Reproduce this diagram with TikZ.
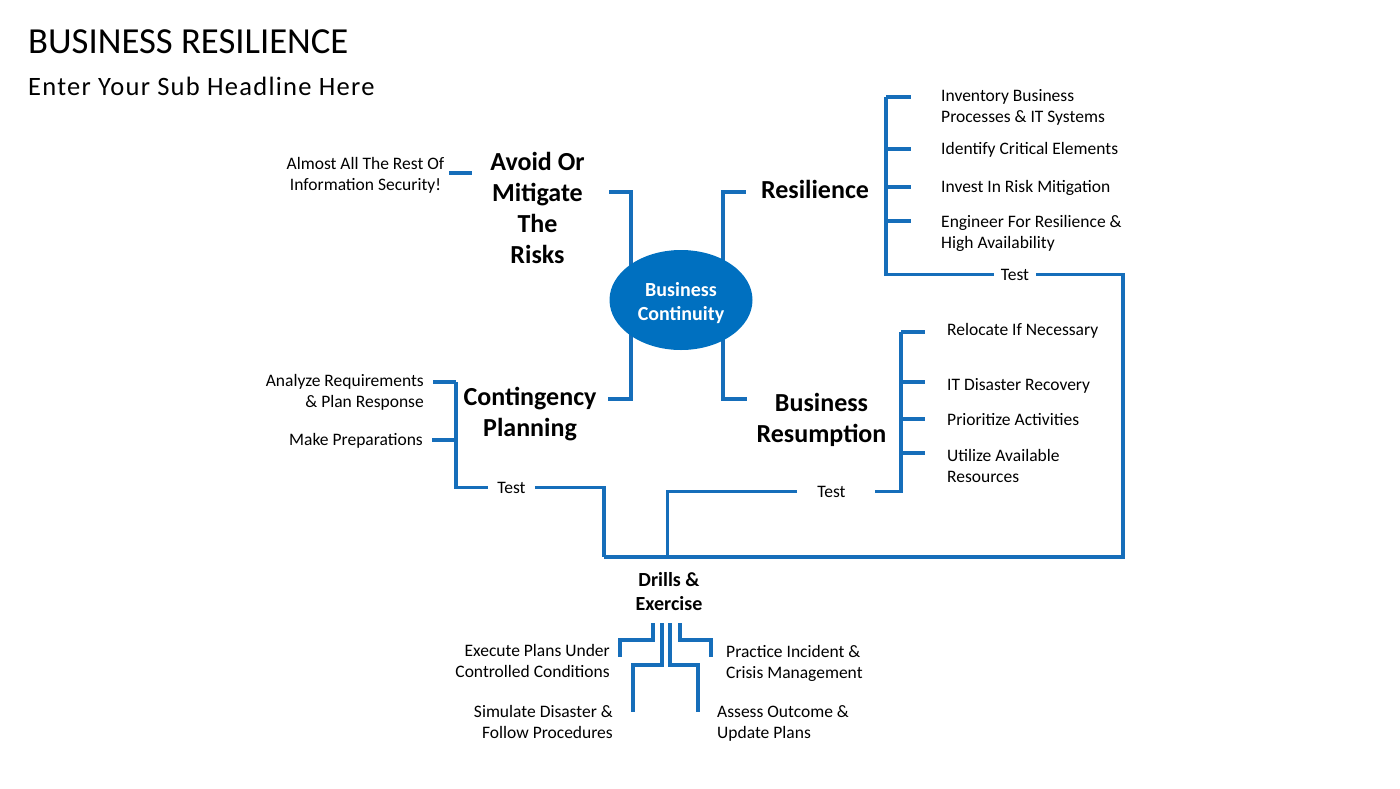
\documentclass[tikz,border=0pt]{standalone}
\usepackage{fontspec}
\setmainfont{Carlito}
\usepackage{tikz}
\usetikzlibrary{shapes,backgrounds}
\definecolor{bcblue}{RGB}{0,112,192}
\definecolor{bclink}{RGB}{22,110,186}
\newcommand{\leaffont}{\fontsize{17.5}{21}\selectfont}
\newcommand{\headfont}{\fontsize{26}{31}\selectfont\bfseries}
\newcommand{\hubfont}{\fontsize{20}{24}\selectfont\bfseries}
\tikzstyle{hub} = [ellipse, fill=bcblue, text=white, font=\hubfont, align=center, minimum width=143pt, minimum height=100pt, inner sep=0pt]
\tikzstyle{head} = [font=\headfont, align=center, inner sep=0pt, anchor=base]
\tikzstyle{leafL} = [font=\leaffont, align=left, inner sep=0pt, anchor=base west]
\tikzstyle{leafR} = [font=\leaffont, align=right, inner sep=0pt, anchor=base east]
\tikzstyle{testlbl} = [font=\leaffont, inner ysep=0pt, inner xsep=7pt, anchor=base]
\tikzstyle{link} = [draw=bclink, line width=3.8pt]

\begin{document}
\begin{tikzpicture}[x=1pt, y=-1pt, font=\leaffont]
  \useasboundingbox (0,0) rectangle (1400,788);

  % titles
  \node [anchor=base west, inner sep=0pt, font=\fontsize{36.7}{44}\selectfont] (title) at (28,53) {BUSINESS RESILIENCE};
  \node [anchor=base west, inner sep=0pt, font=\fontsize{26.5}{31}\selectfont\addfontfeature{LetterSpace=4.8}] (subtitle) at (28,95) {Enter Your Sub Headline Here};

  % nodes (base = last line)
  \node [hub] (bc) at (681,300) {\rule{0pt}{21pt}Business\\Continuity};
  \node [head] (avoid) at (537.5,263) {Avoid Or\\Mitigate\\The\\Risks};
  \node [head] (resil) at (815,198) {Resilience};
  \node [head] (cont) at (530,436) {Contingency\\Planning};
  \node [head] (resum) at (821.5,442) {Business\\Resumption};
  \node [head, font=\hubfont] (drills) at (669,610) {Drills \&\\Exercise};

  \node [leafL, align=center, anchor=base] (almost) at (365.5,190) {Almost All The Rest Of\\Information Security!};

  % resilience
  \node [leafL] (inv) at (941,122) {Inventory Business\\Processes \& IT Systems};
  \node [leafL] (idf) at (941,154) {Identify Critical Elements};
  \node [leafL] (ivs) at (941,192) {Invest In Risk Mitigation};
  \node [leafL] (eng) at (941,248) {Engineer For Resilience \&\\High Availability};
  \node [testlbl] (rsTest) at (1015,280) {Test};

  % business resumption
  \node [leafL] (rel) at (947,335) {Relocate If Necessary};
  \node [leafL] (itd) at (947,390) {IT Disaster Recovery};
  \node [leafL] (pri) at (947,425) {Prioritize Activities};
  \node [leafL] (uti) at (947,482) {Utilize Available\\Resources};
  \node [testlbl, inner xsep=20pt] (brTest) at (831.5,497) {Test};

  % contingency planning
  \node [leafR] (ana) at (424,407) {Analyze Requirements\\\& Plan Response};
  \node [leafR] (mkp) at (423,445) {Make Preparations};
  \node [testlbl, inner xsep=9pt] (cpTest) at (511.5,493) {Test};

  % drills & exercise
  \node [leafR] (exe) at (610,677) {Execute Plans Under\\Controlled Conditions};
  \node [leafR] (sim) at (613,738) {Simulate Disaster \&\\Follow Procedures};
  \node [leafL] (pra) at (726,678) {Practice Incident \&\\Crisis Management};
  \node [leafL] (ass) at (717,738) {Assess Outcome \&\\Update Plans};

  % junctions
  \coordinate (hubL) at ([xshift=-50pt]bc.center);
  \coordinate (hubR) at ([xshift=42pt]bc.center);
  \coordinate (avEnd) at (609,192);
  \coordinate (reEnd) at (746,192);
  \coordinate (cpEnd) at (608,399);
  \coordinate (brEnd) at (747,399);
  \coordinate (dash) at (449,173);
  \coordinate (drL) at (604,557);
  \coordinate (drM) at (667.5,557);
  \coordinate (drR) at (1123,557);
  \coordinate (fork) at ([yshift=-13pt]drills.south);

  % edges
  \begin{scope}[on background layer]
    \path [link] (hubL) |- (avEnd);
    \path [link] (hubL) |- (cpEnd);
    \path [link] (hubR) |- (reEnd);
    \path [link] (hubR) |- (brEnd);
  \end{scope}
  \path [link] (dash) -- ++(23,0);

  \foreach \n/\d in {inv/25,idf/5,ivs/5,eng/27}
    \path [link] ([yshift=\d pt]\n.base west) ++(-55,0) -- ++(25,0);
  \path [link] ([yshift=25pt]inv.base west) ++(-55,0) |- (rsTest.west);
  \path [link] (rsTest.east) -| (drR) -- (drL);

  \foreach \n/\d in {rel/3,itd/8,pri/6,uti/29}
    \path [link] ([yshift=\d pt]\n.base west) ++(-46,0) -- ++(24,0);
  \path [link] ([yshift=3pt]rel.base west) ++(-46,0) |- ([xshift=9pt]brTest.east);
  \path [link] (brTest.west) -| (drM);

  \foreach \n/\d in {ana/25,mkp/5}
    \path [link] ([yshift=\d pt]\n.base east) ++(9,0) -- ++(23,0);
  \path [link] ([yshift=25pt]ana.base east) ++(32,0) |- (cpTest.west);
  \path [link] (cpTest.east) -| (drL);

  \path [link] (fork) ++(-16,0) -- ++(0,17) -- ++(-33,0) -- ++(0,17);
  \path [link] (fork) ++(-7,0) -- ++(0,42) -- ++(-29,0) -- ++(0,47);
  \path [link] (fork) ++(1,0) -- ++(0,42) -- ++(28,0) -- ++(0,47);
  \path [link] (fork) ++(11,0) -- ++(0,17) -- ++(31,0) -- ++(0,17);
\end{tikzpicture}
\end{document}
